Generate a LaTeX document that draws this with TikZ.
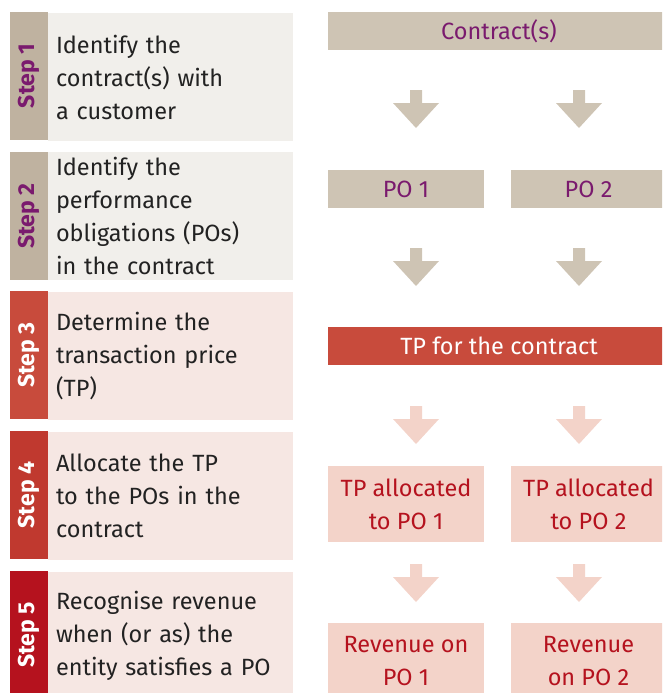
\documentclass[tikz,border=0pt]{standalone}
\usepackage{fontspec}
\setmainfont{Fira Sans}

\definecolor{sand}{HTML}{BFB2A0}
\definecolor{sandbox}{HTML}{CEC4B4}
\definecolor{mist}{HTML}{F1EFEB}
\definecolor{plum}{HTML}{7A1A6E}
\definecolor{brick}{HTML}{C84B3C}
\definecolor{rust}{HTML}{C0392F}
\definecolor{crimson}{HTML}{B5121E}
\definecolor{blushbg}{HTML}{F6E7E3}
\definecolor{blush}{HTML}{F3D3C9}
\definecolor{ink}{HTML}{222222}

\begin{document}
\begin{tikzpicture}[x=1pt, y=-1pt,
  stepbar/.style={rotate=90, minimum width=128pt, minimum height=38pt, inner sep=0pt,
    font=\fontsize{23}{26}\selectfont\bfseries},
  taskbox/.style={minimum width=245pt, minimum height=128pt, text width=229pt,
    inner xsep=8pt, inner ysep=0pt, align=left, text=ink,
    font=\fontsize{23.5}{33}\selectfont},
  flowbox/.style={minimum height=38pt, inner sep=0pt, align=center,
    font=\fontsize{23.5}{33}\selectfont}]

\clip (0,0) rectangle (662,693);

% left column: step bars and what each step does
\foreach \i/\yc/\barcol/\labcol in {1/76/sand/plum, 2/216/sand/plum, 3/355/brick/white,
    4/495/rust/white, 5/635/crimson/white}
{
\node[stepbar, fill=\barcol, text=\labcol] (s\i) at (29,\yc) {Step \i};
}

\node[taskbox, fill=mist]    (t1) at (170.5,77)  {Identify the\\contract(s) with\\a customer};
\node[taskbox, fill=mist]    (t2) at (170.5,216) {Identify the\\performance\\obligations (POs)\\in the contract};
\node[taskbox, fill=blushbg] (t3) at (170.5,356) {Determine the\\transaction price\\(TP)};
\node[taskbox, fill=blushbg] (t4) at (170.5,496) {Allocate the TP\\to the POs in the\\contract};
\node[taskbox, fill=blushbg] (t5) at (170.5,636) {Recognise revenue\\when (or as) the\\entity satisfies a PO};

% right column: the flow from contract to revenue (right edge runs off the page)
\node[flowbox, fill=sandbox, text=plum, minimum width=342pt] (contract) at (499,31) {Contract(s)};
\node[flowbox, fill=sandbox, text=plum, minimum width=156pt] (po1) at (406,189) {PO 1};
\node[flowbox, fill=sandbox, text=plum, minimum width=155pt] (po2) at (588.5,189) {PO 2};
\node[flowbox, fill=brick, text=white, minimum width=342pt] (tp) at (499,346) {TP for the contract};
\node[flowbox, fill=blush, text=crimson, minimum width=156pt, minimum height=76pt] (alloc1) at (406,504) {TP allocated\\to PO 1};
\node[flowbox, fill=blush, text=crimson, minimum width=155pt, minimum height=76pt] (alloc2) at (588.5,504) {TP allocated\\to PO 2};
\node[flowbox, fill=blush, text=crimson, minimum width=156pt, minimum height=76pt] (rev1) at (406,661) {Revenue on\\PO 1};
\node[flowbox, fill=blush, text=crimson, minimum width=155pt, minimum height=76pt] (rev2) at (588.5,661) {Revenue\\on PO 2};

% block arrows between the rows
\foreach \y/\c in {90/sandbox, 248/sandbox, 406/blush, 564/blush}
{
\foreach \x in {416,579}{
\fill[\c] (\x-6,\y) -- (\x+6,\y) -- (\x+6,\y+13) -- (\x+23,\y+13) -- (\x,\y+38)
  -- (\x-23,\y+13) -- (\x-6,\y+13) -- cycle;}
}
\end{tikzpicture}
\end{document}
